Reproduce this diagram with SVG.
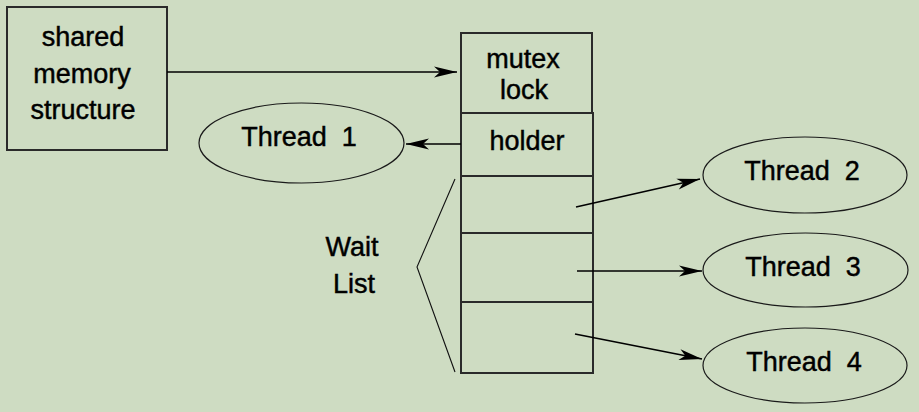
<svg xmlns="http://www.w3.org/2000/svg" width="919" height="412" viewBox="0 0 919 412">
<defs>
<style>
.bg{fill:#cedcc2}
.box{fill:none;stroke:#2a2a2a;stroke-width:2}
.ell{fill:none;stroke:#1a1a1a;stroke-width:1.2}
.ln{fill:none;stroke:#000;stroke-width:1.6}
.br{fill:none;stroke:#111;stroke-width:1.1}
text{font-family:"Liberation Sans",Arial,sans-serif;font-size:27px;fill:#000;stroke:#000;stroke-width:0.45;text-anchor:middle;white-space:pre}
</style>
<marker id="ah" markerUnits="userSpaceOnUse" markerWidth="26" markerHeight="14" refX="24" refY="6" orient="auto" viewBox="0 0 26 12">
<path d="M24,6 L1,0.5 L7,6 L1,11.5 Z" fill="#000"/>
</marker>
</defs>
<rect class="bg" x="0" y="0" width="919" height="412"/>
<g id="shared">
<rect class="box" x="7" y="7" width="160" height="143"/>
<text x="83" y="46">shared</text>
<text x="82" y="83">memory</text>
<text x="83" y="119">structure</text>
</g>
<g id="mutex">
<rect class="box" x="461" y="33" width="131" height="80"/>
<text x="523" y="68">mutex</text>
<text x="524" y="99">lock</text>
</g>
<g id="holder">
<rect class="box" x="461" y="113" width="132" height="63"/>
<text x="527" y="150">holder</text>
</g>
<g id="waitlist">
<rect class="box" x="461" y="176" width="132" height="197"/>
<line class="box" x1="461" y1="233" x2="593" y2="233"/>
<line class="box" x1="461" y1="302" x2="592" y2="302"/>
</g>
<g id="waitlabel">
<polyline class="br" points="455,179 417,267 455,372"/>
<text x="352" y="256">Wait</text>
<text x="354" y="293">List</text>
</g>
<g id="thread1">
<ellipse class="ell" cx="301.5" cy="143" rx="102.5" ry="40"/>
<text x="299" y="146">Thread  1</text>
</g>
<g id="thread2">
<ellipse class="ell" cx="805" cy="175" rx="102" ry="38"/>
<text x="802" y="180">Thread  2</text>
</g>
<g id="thread3">
<ellipse class="ell" cx="805.5" cy="270" rx="102.5" ry="37"/>
<text x="803" y="276">Thread  3</text>
</g>
<g id="thread4">
<ellipse class="ell" cx="805" cy="365.5" rx="102" ry="37.5"/>
<text x="804" y="371">Thread  4</text>
</g>
<g id="connectors">
<line class="ln" x1="167" y1="72" x2="457" y2="72" marker-end="url(#ah)"/>
<line class="ln" x1="461" y1="144" x2="406" y2="144" marker-end="url(#ah)"/>
<line class="ln" x1="576" y1="207" x2="700" y2="179" marker-end="url(#ah)"/>
<line class="ln" x1="577" y1="271" x2="702" y2="271" marker-end="url(#ah)"/>
<line class="ln" x1="575" y1="334" x2="702" y2="359" marker-end="url(#ah)"/>
</g>
</svg>
